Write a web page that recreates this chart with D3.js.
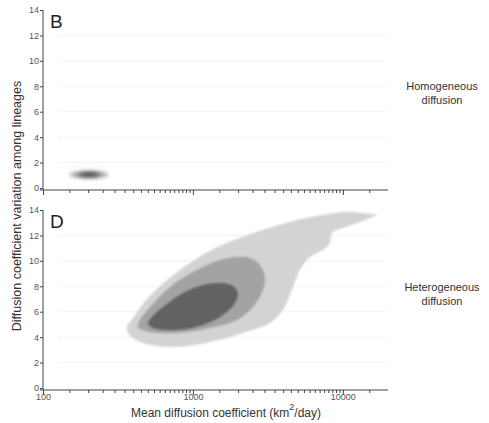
<!DOCTYPE html>
<html>
<head>
<meta charset="utf-8">
<script src="https://cdn.jsdelivr.net/npm/d3@7"></script>
<style>
  body { margin: 0; background: #fff; }
  svg { font-family: "Liberation Sans", Arial, sans-serif; }
  .axis path, .axis line { stroke: #444; }
  .axis text { fill: #555; font-size: 9px; }
</style>
</head>
<body>
<div class="chart"></div>
<script>
// data: [mean diffusion coefficient, variation among lineages]
var homogeneousOuter = [[150,1.05],[168,0.86],[205,0.8],[250,0.88],[272,1.05],[252,1.22],[205,1.3],[166,1.22]];
var homogeneousInner = [[172,1.05],[188,0.92],[222,0.93],[236,1.05],[222,1.17],[190,1.18]];

var heteroLight = [[363,4.8],[369,4.33],[464,3.54],[782,3.23],[1298,3.62],[2154,4.33],[3260,5.11],
  [3981,6.14],[4571,7.71],[5167,9.28],[6026,10.31],[7356,10.86],[8185,11.41],[8450,12.2],
  [10000,12.59],[12400,12.98],[15850,13.45],[16860,13.61],[13590,13.77],[10000,13.85],
  [7356,13.61],[4937,13.22],[3260,12.6],[2154,11.9],[1298,10.8],[782,9.1],[517,7.25],[398,5.5]];
var heteroMid = [[430,4.8],[517,4.41],[782,4.33],[1298,4.72],[1965,5.35],[2512,6.37],[2929,7.71],
  [3020,8.73],[2797,9.68],[2399,10.23],[1965,10.31],[1514,10.07],[1000,9.13],[703,7.95],[517,6.37],[443,5.35]];
var heteroDark = [[501,5.11],[541,4.72],[782,4.56],[1166,4.96],[1585,5.74],[1905,6.69],[1995,7.47],
  [1848,8.03],[1514,8.26],[1166,8.1],[858,7.47],[631,6.37],[533,5.59]];

var yTicks = [0, 2, 4, 6, 8, 10, 12, 14];
var xMajor = [100, 1000, 10000];
var xMinor = [150,200,250,300,350,400,450,500,550,600,650,700,750,800,850,900,950,
  1500,2000,2500,3000,3500,4000,4500,5000,5500,6000,6500,7000,7500,8000,8500,9000,9500,15000];

var w = 489, h = 423;

var svg = d3.select(".chart").append("svg")
    .attr("width", w)
    .attr("height", h);

// blur filters for the soft density edges
var defs = svg.append("defs");
defs.append("filter").attr("id", "soft").attr("x", "-20%").attr("y", "-20%").attr("width", "140%").attr("height", "140%")
  .append("feGaussianBlur").attr("stdDeviation", 0.8);
defs.append("filter").attr("id", "blob").attr("x", "-50%").attr("y", "-200%").attr("width", "200%").attr("height", "500%")
  .append("feGaussianBlur").attr("stdDeviation", 2);

var xScale = d3.scaleLog().domain([100, 20000]).range([43, 388]);

var panels = [
  {letter: "B", y: d3.scaleLinear().domain([0, 14]).range([188, 10]), axisY: 190,
   labels: ["Homogeneous", "diffusion"], labelY: 90, tickLabels: false},
  {letter: "D", y: d3.scaleLinear().domain([0, 14]).range([388, 210]), axisY: 390,
   labels: ["Heterogeneous", "diffusion"], labelY: 291, tickLabels: true}
];

panels.forEach(function(p, i) {
  var g = svg.append("g");

  // faint dotted gridlines
  g.selectAll(".grid")
    .data(yTicks.filter(function(d) { return d > 0 && d < 14; }))
    .enter().append("line")
    .attr("x1", 60).attr("x2", 385)
    .attr("y1", function(d) { return p.y(d); })
    .attr("y2", function(d) { return p.y(d); })
    .style("stroke", "#e8e8e8")
    .style("stroke-dasharray", "2,2");

  var line = d3.line()
    .x(function(d) { return xScale(d[0]); })
    .y(function(d) { return p.y(d[1]); })
    .curve(d3.curveCatmullRomClosed.alpha(0.5));

  if (i === 0) {
    g.append("path").datum(homogeneousOuter).attr("d", line)
      .style("fill", "#8a8a8a").attr("filter", "url(#blob)");
    g.append("path").datum(homogeneousInner).attr("d", line)
      .style("fill", "#3c3c3c").attr("filter", "url(#blob)");
  } else {
    [[heteroLight, "#d3d3d3"], [heteroMid, "#a3a3a3"], [heteroDark, "#626262"]].forEach(function(c) {
      g.append("path").datum(c[0]).attr("d", line)
        .style("fill", c[1]).attr("filter", "url(#soft)");
    });
  }

  // y axis
  g.append("g")
    .attr("class", "axis")
    .attr("transform", "translate(43,0)")
    .call(d3.axisLeft(p.y).tickValues(yTicks).tickSize(3).tickPadding(1).tickFormat(d3.format("d")))
    .call(function(a) { a.select(".domain").attr("d", "M0," + p.y(14) + "V" + p.axisY); });

  // x axis
  var xa = g.append("g")
    .attr("class", "axis")
    .attr("transform", "translate(0," + p.axisY + ")")
    .call(d3.axisBottom(xScale).tickValues(xMajor.concat(xMinor)).tickSize(3).tickPadding(1)
      .tickFormat(function(d) { return (p.tickLabels && xMajor.indexOf(d) >= 0) ? d : ""; }));
  xa.select(".domain").attr("d", "M40,0H388");
  xa.selectAll(".tick line")
    .attr("y2", function(d) { return xMajor.indexOf(d) >= 0 ? 5 : 3; });

  // panel letter
  g.append("text")
    .attr("x", 50).attr("y", p.y(14) + 18)
    .style("font-size", "19px")
    .style("fill", "#222")
    .text(p.letter);

  // right-hand label
  g.append("text")
    .attr("x", 442).attr("y", p.labelY)
    .style("text-anchor", "middle")
    .style("font-size", "11px")
    .style("fill", "#333")
    .selectAll("tspan")
    .data(p.labels)
    .enter().append("tspan")
    .attr("x", 442)
    .attr("dy", function(d, j) { return j === 0 ? 0 : 14; })
    .text(function(d) { return d; });
});

// shared axis titles
svg.append("text")
  .attr("transform", "translate(21,206) rotate(-90)")
  .style("text-anchor", "middle")
  .style("font-size", "12.5px")
  .style("fill", "#333")
  .text("Diffusion coefficient variation among lineages");

var xt = svg.append("text")
  .attr("x", 226).attr("y", 417)
  .style("text-anchor", "middle")
  .style("font-size", "12px")
  .style("fill", "#333");
xt.append("tspan").text("Mean diffusion coefficient (km");
xt.append("tspan").attr("dy", -7).style("font-size", "9px").text("2");
xt.append("tspan").attr("dy", 7).text("/day)");
</script>
</body>
</html>
